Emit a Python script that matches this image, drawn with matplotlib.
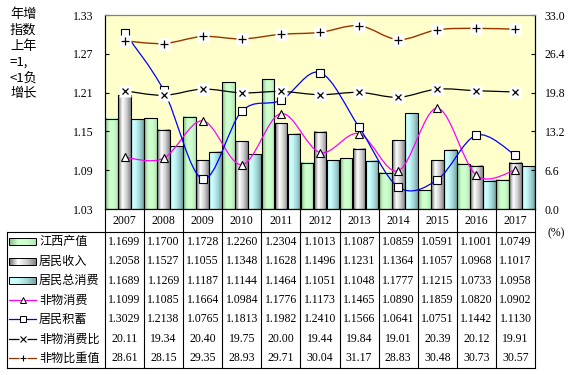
import numpy as np
import matplotlib
matplotlib.use('Agg')
import matplotlib.pyplot as plt
from matplotlib.path import Path
from matplotlib.patches import PathPatch, Rectangle
from matplotlib.colors import LinearSegmentedColormap

plt.rcParams['font.family'] = ['Liberation Serif', 'Noto Sans CJK SC']

years = ['2007', '2008', '2009', '2010', '2011', '2012', '2013', '2014', '2015', '2016', '2017']
jiangxi = [1.1699, 1.1700, 1.1728, 1.2260, 1.2304, 1.1013, 1.1087, 1.0859, 1.0591, 1.1001, 1.0749]
income = [1.2058, 1.1527, 1.1055, 1.1348, 1.1628, 1.1496, 1.1231, 1.1364, 1.1057, 1.0968, 1.1017]
consume = [1.1689, 1.1269, 1.1187, 1.1144, 1.1464, 1.1051, 1.1048, 1.1777, 1.1215, 1.0733, 1.0958]
nonmat = [1.1099, 1.1085, 1.1664, 1.0984, 1.1776, 1.1173, 1.1465, 1.0890, 1.1859, 1.0820, 1.0902]
savings = [1.3029, 1.2138, 1.0765, 1.1813, 1.1982, 1.2410, 1.1566, 1.0641, 1.0751, 1.1442, 1.1130]
ratio = [20.11, 19.34, 20.40, 19.75, 20.00, 19.44, 19.84, 19.01, 20.39, 20.12, 19.91]
share = [28.61, 28.15, 29.35, 28.93, 29.71, 30.04, 31.17, 28.83, 30.48, 30.73, 30.57]

left_ticks = [1.03, 1.09, 1.15, 1.21, 1.27, 1.33]
right_ticks = [0.0, 6.6, 13.2, 19.8, 26.4, 33.0]

cm_green = LinearSegmentedColormap.from_list('g', ['#88BB88', '#CCFFCC', '#CCFFCC', '#B5E5B5'])
cm_gray = LinearSegmentedColormap.from_list('k', ['#6A6A6A', '#FFFFFF', '#CFCFCF', '#858585'])
cm_cyan = LinearSegmentedColormap.from_list('c', ['#CCFFFF', '#C8FAFA', '#A5D8D8', '#73A5A5'])

W, H = 577, 375
L, R, T, B = 105, 535, 15, 209

fig = plt.figure(figsize=(W / 100, H / 100), dpi=100)
ax = fig.add_axes([L / W, 1 - B / H, (R - L) / W, (B - T) / H])
ax.set_facecolor('#FFFFCC')
ax2 = ax.twinx()


# courbe lissée façon Excel (Bezier passant par les points)
def smooth(x, y):
    pts = np.column_stack([x, y]).astype(float)
    n = len(pts)
    verts = [pts[0]]
    codes = [Path.MOVETO]
    for i in range(n - 1):
        p0, p1 = pts[max(i - 1, 0)], pts[i]
        p2, p3 = pts[i + 1], pts[min(i + 2, n - 1)]
        verts += [p1 + (p2 - p0) / 6, p2 - (p3 - p1) / 6, p2]
        codes += [Path.CURVE4] * 3
    return Path(verts, codes)


grad = np.linspace(0, 1, 64).reshape(1, -1)


def gradient_bars(bars, cmap):
    for b in bars:
        x0, y0 = b.get_x(), b.get_y()
        ax.imshow(grad, cmap=cmap, aspect='auto', zorder=1, interpolation='bilinear',
                  extent=(x0, x0 + b.get_width(), y0, y0 + b.get_height()))
        b.set_facecolor('none')


x = np.arange(len(years))
bw = 0.325
base = left_ticks[0]
for off, vals, cmap in [(-1 / 3, jiangxi, cm_green), (0, income, cm_gray), (1 / 3, consume, cm_cyan)]:
    bars = ax.bar(x + off, np.array(vals) - base, bw, bottom=base, edgecolor='black',
                  linewidth=0.8, zorder=2)
    gradient_bars(bars, cmap)

ax.add_patch(PathPatch(smooth(x, nonmat), fill=False, edgecolor='#FF00FF', lw=0.9, zorder=3))
ax.plot(x, nonmat, ls='none', marker='^', ms=6, mfc='white', mec='black', mew=0.8, zorder=4)
ax.add_patch(PathPatch(smooth(x, savings), fill=False, edgecolor='#0000FF', lw=0.9, zorder=3))
ax.plot(x, savings, ls='none', marker='s', ms=5.5, mfc='white', mec='black', mew=0.8, zorder=4)

ax2.add_patch(PathPatch(smooth(x, ratio), fill=False, edgecolor='black', lw=0.9, zorder=3))
ax2.plot(x, ratio, ls='none', marker='s', ms=8, mfc='white', mec='none', zorder=4)
ax2.plot(x, ratio, ls='none', marker='x', ms=5, color='black', mew=0.9, zorder=5)
ax2.add_patch(PathPatch(smooth(x, share), fill=False, edgecolor='#993300', lw=1.0, zorder=3))
ax2.plot(x, share, ls='none', marker='s', ms=8, mfc='white', mec='none', zorder=4)
ax2.plot(x, share, ls='none', marker='+', ms=6, color='black', mew=0.9, zorder=5)

ax.set_xlim(-0.5, len(years) - 0.5)
ax.set_ylim(left_ticks[0], left_ticks[-1])
ax2.set_ylim(right_ticks[0], right_ticks[-1])
ax.set_xticks([])
ax.set_yticks(left_ticks)
ax.set_yticklabels(['%.2f' % v for v in left_ticks])
ax2.set_yticks(right_ticks)
ax2.set_yticklabels(['%.1f' % v for v in right_ticks])
ax.tick_params(axis='y', direction='in', length=3, pad=8, labelsize=8.5)
ax2.tick_params(axis='y', direction='in', length=3, pad=7, labelsize=8.5)
for a in (ax, ax2):
    a.spines['top'].set_color('#808080')
    a.spines['left'].set_color('black')
    a.spines['right'].set_color('black')
    a.spines['bottom'].set_color('black')

fig.text(10 / W, 1 - 8 / H, '年增\n指数\n上年\n=1,\n<1负\n增长', family=['Noto Sans CJK SC'],
         fontsize=9.5, va='top', ha='left', linespacing=1.28)
fig.text(548 / W, 1 - 233 / H, '(%)', fontsize=8.5, va='center', ha='left')

# tableau de données sous le graphique
ov = fig.add_axes([0, 0, 1, 1])
ov.patch.set_visible(False)
ov.axis('off')
cw = (R - L) / len(years)
top_tab, bot_tab = 232, 368
rh = (bot_tab - top_tab) / 7
lw = 0.8

for i, y in enumerate(years):
    ov.text(L + (i + 0.5) * cw, (B + top_tab) / 2, y, ha='center', va='center', fontsize=8.5)
for i in range(len(years) + 1):
    ov.plot([L + i * cw] * 2, [B, bot_tab], color='black', lw=lw)
ov.plot([7, R], [top_tab, top_tab], color='black', lw=lw)
ov.plot([7, R], [bot_tab, bot_tab], color='black', lw=lw)
ov.plot([7, 7], [top_tab, bot_tab], color='black', lw=lw)

rows = [
    ('江西产值', jiangxi, 'bar', cm_green, None),
    ('居民收入', income, 'bar', cm_gray, None),
    ('居民总消费', consume, 'bar', cm_cyan, None),
    ('非物消费', nonmat, 'line', '#FF00FF', '^'),
    ('居民积蓄', savings, 'line', '#0000FF', 's'),
    ('非物消费比', ratio, 'line', 'black', 'x'),
    ('非物比重值', share, 'line', '#993300', '+'),
]
for r, (name, vals, kind, col, mk) in enumerate(rows):
    yc = top_tab + (r + 0.5) * rh
    if kind == 'bar':
        ov.imshow(grad, cmap=col, aspect='auto', interpolation='bilinear',
                  extent=(9, 36, yc + 3.5, yc - 3.5), zorder=2)
        ov.add_patch(Rectangle((9, yc - 3.5), 27, 7, fill=False, edgecolor='black', lw=0.7, zorder=3))
    else:
        ov.plot([9, 36], [yc, yc], color=col, lw=0.9, zorder=2)
        if mk in ('^', 's'):
            ov.plot([22.5], [yc], marker=mk, ms=4.5, mfc='white', mec='black', mew=0.7, zorder=3)
        else:
            ov.plot([22.5], [yc], marker='s', ms=6, mfc='white', mec='none', zorder=3)
            ov.plot([22.5], [yc], marker=mk, ms=4, color='black', mew=0.8, zorder=4)
    ov.text(39, yc, name, family=['Noto Sans CJK SC'], fontsize=8.7, va='center', ha='left')
    fmt = '%.4f' if kind == 'bar' or mk in ('^', 's') else '%.2f'
    for i, v in enumerate(vals):
        ov.text(L + (i + 0.5) * cw, yc, fmt % v, ha='center', va='center', fontsize=8.5)

ov.set_xlim(0, W)
ov.set_ylim(H, 0)

fig.savefig('out.png', dpi=100, facecolor='white')
